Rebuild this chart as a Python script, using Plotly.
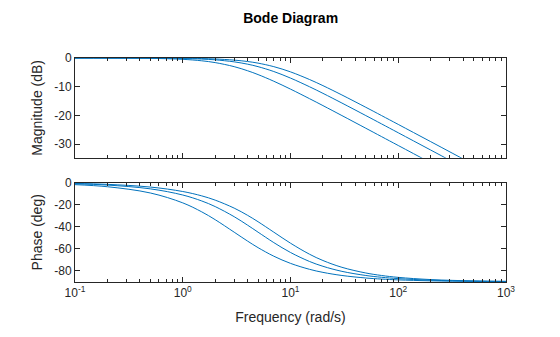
import plotly.graph_objects as go
from plotly.subplots import make_subplots

# Frequencies (rad/s) at which values were read
freq = [0.1, 0.2, 0.5, 1, 1.5, 2, 3, 4, 5, 7, 10, 15, 20, 30, 50, 70, 100, 200, 500, 1000]

# Magnitude (dB), three responses
mag_a = [0.00, -0.02, -0.12, -0.46, -0.97, -1.60, -3.01, -4.44, -5.77, -8.09, -10.83, -14.15,
         -16.57, -20.04, -24.45, -27.37, -30.46, -36.48, -44.44, -50.46]
mag_b = [0.00, -0.01, -0.04, -0.17, -0.37, -0.64, -1.34, -2.15, -3.01, -4.71, -6.99, -10.00,
         -12.30, -15.68, -20.04, -22.94, -26.03, -32.04, -40.00, -46.02]
mag_c = [0.00, 0.00, -0.02, -0.09, -0.19, -0.34, -0.73, -1.23, -1.79, -3.01, -4.83, -7.48,
         -9.62, -12.87, -17.16, -20.04, -23.12, -29.12, -37.08, -43.10]

# Phase (deg), three responses
ph_a = [-1.91, -3.81, -9.46, -18.43, -26.57, -33.69, -45.00, -53.13, -59.04, -66.80, -73.30,
        -78.69, -81.47, -84.29, -86.57, -87.55, -88.28, -89.14, -89.66, -89.83]
ph_b = [-1.15, -2.29, -5.71, -11.31, -16.70, -21.80, -30.96, -38.66, -45.00, -54.46, -63.43,
        -71.57, -75.96, -80.54, -84.29, -85.91, -87.14, -88.57, -89.43, -89.71]
ph_c = [-0.82, -1.64, -4.09, -8.13, -12.09, -15.95, -23.20, -29.74, -35.54, -45.00, -55.01,
        -64.98, -70.71, -76.87, -82.03, -84.29, -86.00, -88.00, -89.20, -89.60]

x_tickvals = [0.1, 1, 10, 100, 1000]
x_ticktext = ["10<sup>-1</sup>", "10<sup>0</sup>", "10<sup>1</sup>", "10<sup>2</sup>", "10<sup>3</sup>"]
x_minor = [m * d for d in (0.1, 1, 10, 100) for m in range(2, 10)]
mag_ticks = [0, -10, -20, -30]
mag_ticktext = ["0", "-10", "-20", "-30"]
ph_ticks = [0, -20, -40, -60, -80]
ph_ticktext = ["0", "-20", "-40", "-60", "-80"]

LINE = "#0072BD"
AX = "#262626"
FONT = "Liberation Sans, Arial, sans-serif"

fig = make_subplots(rows=2, cols=1, shared_xaxes=True)

for m in (mag_a, mag_b, mag_c):
    fig.add_trace(go.Scatter(x=freq, y=m, mode="lines", line=dict(color=LINE, width=1, shape="spline"),
                             showlegend=False, hoverinfo="skip"), row=1, col=1)
for p in (ph_a, ph_b, ph_c):
    fig.add_trace(go.Scatter(x=freq, y=p, mode="lines", line=dict(color=LINE, width=1, shape="spline"),
                             showlegend=False, hoverinfo="skip"), row=2, col=1)

common_x = dict(type="log", range=[-1, 3], showgrid=False, zeroline=False, showline=True, linecolor=AX,
                linewidth=1, mirror="ticks", ticks="inside", ticklen=5, tickcolor=AX,
                tickmode="array", tickvals=x_tickvals,
                minor=dict(ticks="inside", ticklen=3, tickcolor=AX, showgrid=False,
                           tickmode="array", tickvals=x_minor))
fig.update_xaxes(**common_x)
fig.update_xaxes(showticklabels=False, row=1, col=1)
fig.update_xaxes(ticktext=x_ticktext, row=2, col=1,
                 tickfont=dict(size=12, color=AX),
                 title=dict(text="Frequency (rad/s)", font=dict(size=14, color=AX), standoff=12))

common_y = dict(showgrid=False, zeroline=False, showline=True, linecolor=AX, linewidth=1, mirror="ticks",
                ticks="inside", ticklen=5, tickcolor=AX, tickfont=dict(size=12, color=AX), tickmode="array")
fig.update_yaxes(**common_y)
fig.update_yaxes(range=[-34.7, 0], tickvals=mag_ticks, ticktext=mag_ticktext, domain=[0.555, 1.0],
                 row=1, col=1,
                 title=dict(text="Magnitude (dB)", font=dict(size=14, color=AX), standoff=8))
fig.update_yaxes(range=[-90.2, 0], tickvals=ph_ticks, ticktext=ph_ticktext, domain=[0, 0.444],
                 row=2, col=1,
                 title=dict(text="Phase (deg)", font=dict(size=14, color=AX), standoff=8))

fig.update_layout(
    width=560, height=337,
    margin=dict(l=75, r=54, t=58, b=55),
    paper_bgcolor="white", plot_bgcolor="white",
    font=dict(family=FONT, color=AX),
    title=dict(text="<b>Bode Diagram</b>", x=0.519, xanchor="center", y=0.947, yanchor="middle",
               font=dict(size=14, color="#000000")),
)

fig.write_html("out.html")
